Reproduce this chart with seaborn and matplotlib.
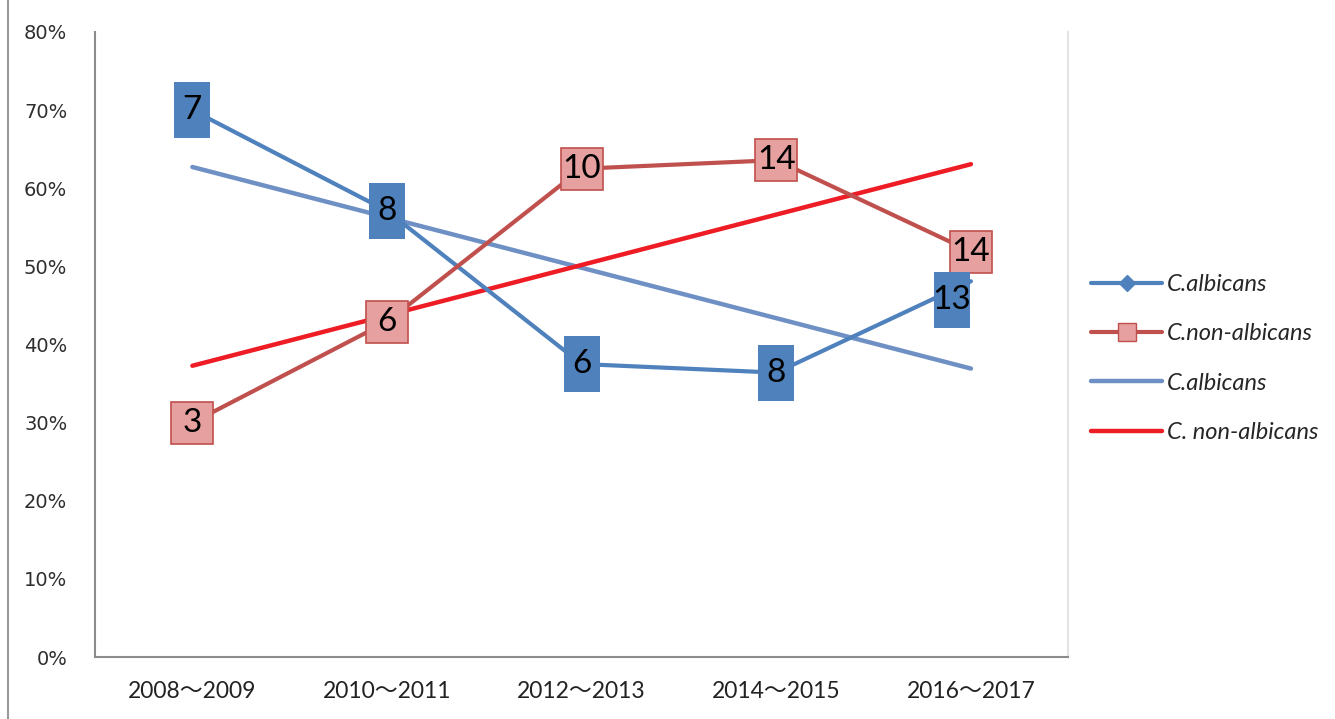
import numpy as np
import matplotlib
matplotlib.use("Agg")
import matplotlib.pyplot as plt
import matplotlib.transforms as mtransforms
from matplotlib.lines import Line2D
import seaborn as sns

# Datos
periodos = ["2008～2009", "2010～2011", "2012～2013", "2014～2015", "2016～2017"]
albicans_pct = [70.0, 57.1, 37.5, 36.4, 48.1]
non_albicans_pct = [30.0, 42.9, 62.5, 63.6, 51.9]
albicans_n = [7, 8, 6, 8, 13]
non_albicans_n = [3, 6, 10, 14, 14]

# Configuracion general
sns.set_theme(style="white")
plt.rcParams["font.family"] = ["Lato", "Noto Sans CJK SC", "DejaVu Sans"]

azul = "#4F81BD"
azul_tend = "#6E90C4"
rojo = "#C0504D"
rosa = "#E6A09F"
rojo_tend = "#EE1C25"
gris = "#8C8C8C"

fig = plt.figure(figsize=(13.35, 7.19), dpi=100)
ax = fig.add_axes([0.0712, 0.0862, 0.729, 0.8693])
x = np.arange(len(periodos))

# Series principales
sns.lineplot(x=x, y=albicans_pct, ax=ax, color=azul, linewidth=3, zorder=3)
sns.lineplot(x=x, y=non_albicans_pct, ax=ax, color=rojo, linewidth=3, zorder=3)

# Lineas de tendencia (ajuste lineal)
sns.regplot(x=x, y=albicans_pct, ax=ax, scatter=False, ci=None, truncate=True,
            line_kws=dict(color=azul_tend, linewidth=3.2, zorder=2))
sns.regplot(x=x, y=non_albicans_pct, ax=ax, scatter=False, ci=None, truncate=True,
            line_kws=dict(color=rojo_tend, linewidth=3.2, zorder=2))

# Etiquetas de datos con caja
rect_alto = [(-0.32, -0.5), (0.32, -0.5), (0.32, 0.5), (-0.32, 0.5), (-0.32, -0.5)]
desplazamientos = {("alb", 4): (-19, -19)}
for serie, vals, ns in [("non", non_albicans_pct, non_albicans_n), ("alb", albicans_pct, albicans_n)]:
    for i, (v, n) in enumerate(zip(vals, ns)):
        dx, dy = desplazamientos.get((serie, i), (0, 0))
        tr = mtransforms.offset_copy(ax.transData, fig=fig, x=dx, y=dy, units="dots")
        if serie == "alb":
            ax.plot(x[i], v, marker=rect_alto, markersize=41, color=azul,
                    markeredgewidth=0, transform=tr, zorder=4)
        else:
            ax.plot(x[i], v, marker="s", markersize=30, markerfacecolor=rosa,
                    markeredgecolor=rojo, markeredgewidth=1.2, transform=tr, zorder=4)
        ax.text(x[i], v, str(n), transform=tr, ha="center", va="center",
                fontsize=24, color="black", zorder=5)

# Ejes
ax.set_xlim(-0.5, len(periodos) - 0.5)
ax.set_ylim(0, 80)
ax.set_yticks(np.arange(0, 81, 10))
ax.set_yticklabels([f"{t}%" for t in range(0, 81, 10)], family="DejaVu Sans",
                   fontsize=14, color="#2E2E2E")
ax.set_xticks(np.arange(-0.5, len(periodos), 1))
ax.set_xticklabels([])
ax.set_xticks(x, minor=True)
ax.set_xticklabels(periodos, minor=True, fontsize=16.5, color="#222222")
ax.tick_params(axis="x", which="minor", length=0, pad=17)
ax.tick_params(axis="x", which="major", length=8, width=1.3, color=gris, direction="out")
ax.tick_params(axis="y", length=8, width=1.3, color=gris, direction="out", pad=12)
ax.spines["top"].set_visible(False)
ax.spines["left"].set_color(gris)
ax.spines["bottom"].set_color(gris)
ax.spines["left"].set_linewidth(1.5)
ax.spines["bottom"].set_linewidth(1.5)
ax.spines["right"].set_color("#E4E4E4")
ax.spines["right"].set_linewidth(1.5)
ax.grid(False)

# Borde izquierdo de la imagen
fig.add_artist(Line2D([0.006, 0.006], [0, 1], transform=fig.transFigure, color="#9A9A9A", linewidth=1.5))

# Leyenda
handles = [
    Line2D([], [], color=azul, linewidth=3, marker="D", markersize=8, markerfacecolor=azul, markeredgecolor=azul),
    Line2D([], [], color=rojo, linewidth=3, marker="s", markersize=13, markerfacecolor=rosa, markeredgecolor=rojo),
    Line2D([], [], color=azul_tend, linewidth=3.2),
    Line2D([], [], color=rojo_tend, linewidth=3.2),
]
etiquetas = ["C.albicans", "C.non-albicans", "C.albicans", "C. non-albicans"]
leg = fig.legend(handles, etiquetas, loc="upper left", bbox_to_anchor=(0.8015, 0.6485),
                 frameon=False, handlelength=3.0, handletextpad=0.2,
                 labelspacing=1.2, prop=dict(style="italic", size=17))

fig.savefig("out.png", dpi=100)
